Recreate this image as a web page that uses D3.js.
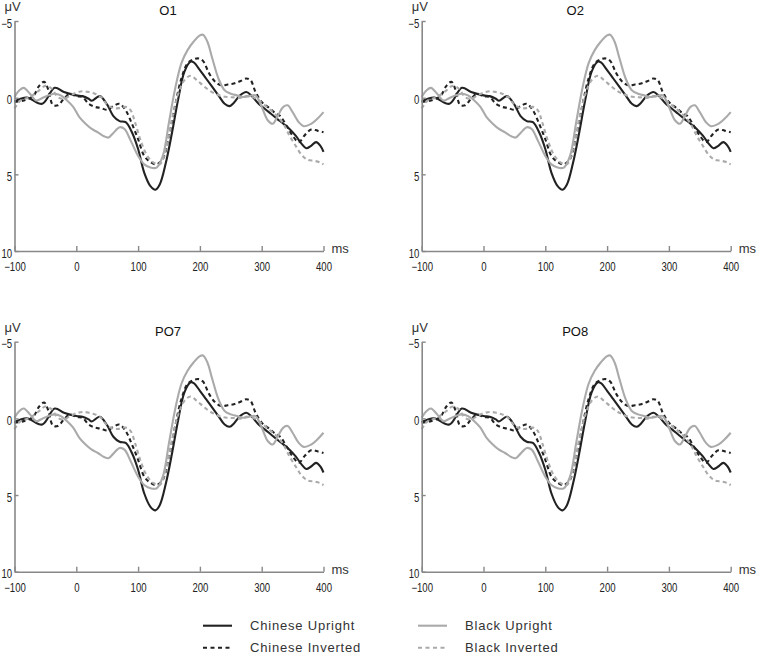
<!DOCTYPE html>
<html>
<head>
<meta charset="utf-8">
<script src="https://cdn.jsdelivr.net/npm/d3@7"></script>
<style>
  html, body { margin: 0; padding: 0; background: #fff; }
  svg { display: block; }
</style>
</head>
<body>
<svg id="chart" width="762" height="655"></svg>
<script>
// ---------- data ----------
const panelTitles = ["O1", "O2", "PO7", "PO8"];
const xTicks = [-100, 0, 100, 200, 300, 400];
const yTicks = [-5, 0, 5, 10];
const seriesNames = ["Chinese Upright", "Chinese Inverted", "Black Upright", "Black Inverted"];

const chineseUprightT = [-100,-80,-55,-35,-20,0,10,20,25,38,50,60,70,80,90,100,110,120,128,135,145,155,165,175,185,190,200,210,220,230,240,248,255,265,275,283,295,305,315,325,335,345,355,365,372,380,388,395,400];
const chineseUprightV = [0.24,0.0,0.4,-0.64,-0.37,-0.15,-0.1,0.07,0.2,-0.1,0.46,1.2,1.53,1.6,2.26,3.35,4.9,5.77,6.0,5.66,4.23,2.26,0.07,-1.7,-2.35,-2.3,-1.8,-1.25,-0.7,-0.15,0.4,0.55,0.33,-0.15,-0.37,-0.15,0.4,0.72,1.05,1.38,1.7,2.04,2.48,3.03,3.3,3.14,2.9,3.14,3.53];

const chineseInvertedT = [-100,-85,-70,-60,-52,-45,-38,-30,-20,-10,0,10,20,30,40,50,60,70,80,90,100,110,120,130,140,150,160,170,180,190,198,205,215,225,235,245,255,265,275,282,290,300,310,320,330,340,350,360,370,380,390,400];
const chineseInvertedV = [0.28,0.18,-0.1,-0.77,-1.03,-0.48,0.46,0.5,0.07,-0.26,-0.09,-0.04,0.4,0.6,0.68,0.79,0.55,0.4,0.83,1.7,2.7,3.8,4.2,4.35,4.0,2.5,0.5,-1.25,-2.24,-2.5,-2.56,-2.4,-1.58,-1.03,-0.8,-0.86,-0.92,-1.07,-1.25,-1.14,-0.37,0.28,0.6,0.94,1.2,1.82,2.48,2.9,2.43,2.08,2.15,2.26];

const blackUprightT = [-100,-92,-85,-75,-65,-55,-45,-35,-25,-15,-5,5,15,25,35,45,52,60,70,78,88,100,110,120,130,140,150,160,170,180,190,200,205,212,220,230,240,250,260,270,280,290,300,310,318,325,335,342,350,360,368,380,390,400];
const blackUprightV = [-0.04,-0.48,-0.64,-0.26,0.18,0.02,-0.15,-0.26,-0.15,0.18,0.6,1.27,1.7,2.04,2.26,2.52,2.6,2.3,1.93,2.04,2.8,3.8,4.35,4.56,4.56,3.8,1.6,-0.6,-2.24,-3.1,-3.66,-4.06,-4.1,-3.66,-2.57,-1.25,-0.48,-0.26,-0.15,-0.04,-0.1,-0.15,0.6,1.49,1.7,1.27,0.6,0.5,0.94,1.6,1.86,1.71,1.38,0.94];

const blackInvertedT = [-100,-90,-75,-60,-50,-40,-30,-20,-10,0,10,20,30,40,50,60,70,80,88,95,105,115,125,135,145,155,165,175,185,195,205,215,225,235,245,255,265,275,285,295,305,315,325,335,345,355,365,375,385,395,400];
const blackInvertedV = [0.7,0.18,-0.04,-0.48,-0.77,-0.6,-0.04,0.07,-0.15,-0.33,-0.42,-0.37,-0.26,-0.04,0.46,0.68,0.68,0.6,0.83,1.6,2.9,3.8,4.23,4.35,3.35,1.38,-0.26,-1.14,-1.43,-1.14,-0.8,-0.48,-0.26,-0.1,-0.04,-0.02,0.02,-0.1,-0.04,0.18,0.5,0.83,1.2,1.7,2.48,3.14,3.75,4.06,4.12,4.23,4.35];

// ---------- layout ----------
const svg = d3.select("#chart");
const W = 309, H = 230;
const origins = [[14.5, 21], [421.7, 21], [14.5, 341.7], [421.7, 341.7]];
const styles = [
  { color: "#222", dash: null },
  { color: "#222", dash: "4,3.2" },
  { color: "#aaa", dash: null },
  { color: "#aaa", dash: "4,3.2" }
];
const seriesT = [chineseUprightT, chineseInvertedT, blackUprightT, blackInvertedT];
const seriesV = [chineseUprightV, chineseInvertedV, blackUprightV, blackInvertedV];

const x = d3.scaleLinear().domain([-100, 400]).range([0, W]);
const y = d3.scaleLinear().domain([-5, 10]).range([0, H]);
const line = d3.line().x(d => x(d[0])).y(d => y(d[1])).curve(d3.curveCatmullRom.alpha(0.5));

const axisColor = "#888";
const font = "'Liberation Sans', Arial, sans-serif";

origins.forEach((o, pi) => {
  const g = svg.append("g").attr("transform", `translate(${o[0]},${o[1]})`);

  seriesT.forEach((ts, si) => {
    const pts = ts.map((t, i) => [t, seriesV[si][i]]);
    g.append("path")
      .attr("d", line(pts))
      .attr("fill", "none")
      .attr("stroke", styles[si].color)
      .attr("stroke-width", 2.1)
      .attr("stroke-dasharray", styles[si].dash)
      .attr("stroke-linejoin", "round");
  });

  const xa = g.append("g").attr("transform", `translate(0,${H})`)
    .call(d3.axisBottom(x).tickValues(xTicks).tickSize(-5).tickSizeOuter(0).tickPadding(10));
  const ya = g.append("g")
    .call(d3.axisLeft(y).tickValues(yTicks).tickSize(-4).tickSizeOuter(0).tickPadding(3).tickFormat(d3.format("d")));

  [xa, ya].forEach(a => {
    a.select(".domain").attr("stroke", axisColor).attr("stroke-width", 1.6);
    a.selectAll(".tick line").attr("stroke", axisColor).attr("stroke-width", 1.4);
    a.selectAll(".tick text").attr("fill", "#222").attr("font-size", 12)
      .attr("font-family", font).attr("transform", "scale(0.8,1)");
  });
  ya.selectAll(".tick text").attr("dy", "0.5em");
  xa.selectAll(".tick text").attr("dy", "0.85em");

  g.append("text").attr("x", W / 2 - 1).attr("y", -6).attr("text-anchor", "middle")
    .attr("font-family", font).attr("font-size", 13).attr("fill", "#111").text(panelTitles[pi]);
  g.append("text").attr("x", -10).attr("y", -10)
    .attr("font-family", font).attr("font-size", 13).attr("fill", "#333").text("μV");
  g.append("text").attr("x", W + 8).attr("y", H + 2)
    .attr("font-family", font).attr("font-size", 13).attr("fill", "#333").text("ms");
});

// ---------- legend ----------
const legendPos = [[203, 625.7], [203, 647.7], [418, 625.7], [418, 647.7]];
seriesNames.forEach((name, i) => {
  const [lx, ly] = legendPos[i];
  svg.append("line").attr("x1", lx).attr("x2", lx + 29).attr("y1", ly).attr("y2", ly)
    .attr("stroke", styles[i].color).attr("stroke-width", 2.1)
    .attr("stroke-dasharray", styles[i].dash ? "4,3.5" : null);
  svg.append("text").attr("x", lx + 47).attr("y", ly + 4.5)
    .attr("font-family", font).attr("font-size", 13).attr("letter-spacing", 0.8)
    .attr("fill", "#333").text(name);
});
</script>
</body>
</html>
